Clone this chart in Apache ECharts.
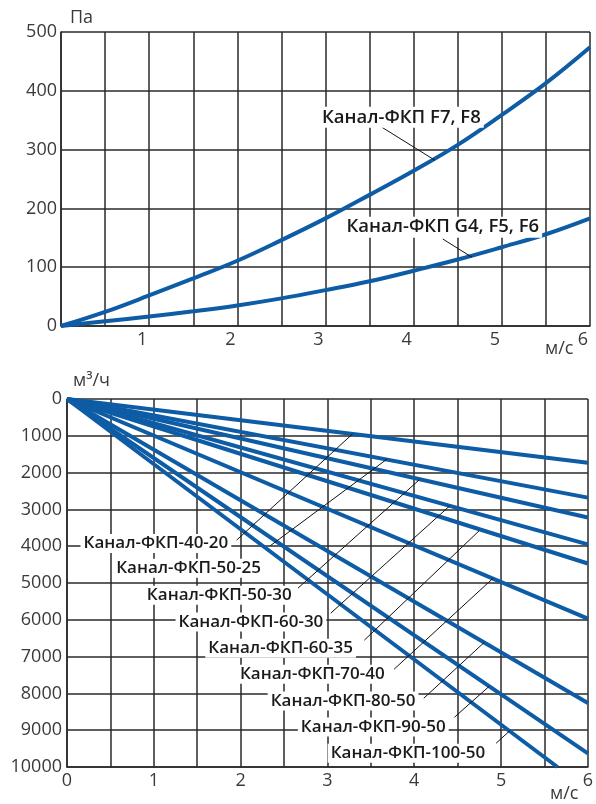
<!DOCTYPE html>
<html><head><meta charset="utf-8">
<script src="https://cdn.jsdelivr.net/npm/echarts@6/dist/echarts.min.js"></script>
<style>html,body{margin:0;padding:0;background:#fff}#c{width:596px;height:804px}</style>
</head><body><div id="c"></div>
<script>
// ---- data ----
const velocity = [0, 0.5, 1, 1.5, 2, 2.5, 3, 3.5, 4, 4.5, 5, 5.5, 6];
const pressF7F8 = [0, 24, 52, 81, 111, 146, 183, 223, 264, 308, 359, 413, 474];
const pressG4F6 = [0, 8, 16, 25, 35, 47, 61, 76, 94, 113, 134, 156, 183];
const topSeriesNames = ['Канал-ФКП F7, F8', 'Канал-ФКП G4, F5, F6'];

const ductNames = ['Канал-ФКП-40-20', 'Канал-ФКП-50-25', 'Канал-ФКП-50-30', 'Канал-ФКП-60-30',
  'Канал-ФКП-60-35', 'Канал-ФКП-70-40', 'Канал-ФКП-80-50', 'Канал-ФКП-90-50', 'Канал-ФКП-100-50'];
const ductEndVelocity = [6, 6, 6, 6, 6, 6, 6, 6, 5.65];
const ductEndFlow = [1730, 2680, 3220, 3950, 4470, 5970, 8260, 9630, 10000];

const topXTickLabels = ['1', '2', '3', '4', '5', '6'];
const bottomXTickLabels = ['0', '1', '2', '3', '4', '5', '6'];

// ---- annotation placement (data coords) ----
const topAnn = [
  { at: [3.86, 355], leader: [[3.64, 338], [4.24, 282]] },
  { at: [4.33, 168], leader: [[4.33, 148], [4.66, 117]] }
];
const botAnn = [
  { at: [1.024, 3924], leader: [[1.954, 3835], [3.288, 952]] },
  { at: [1.40, 4596], leader: [[2.342, 3987], [3.688, 1630]] },
  { at: [1.754, 5330], leader: [[2.661, 5140], [4.061, 2190]] },
  { at: [2.119, 6057], leader: [[3.038, 5820], [4.406, 2910]] },
  { at: [2.461, 6772], leader: [[3.425, 6554], [4.748, 3580]] },
  { at: [2.826, 7479], leader: [[3.768, 7343], [4.909, 4870]] },
  { at: [3.18, 8205], leader: [[4.11, 8132], [4.806, 6615]] },
  { at: [3.528, 8912], leader: [[4.463, 8648], [4.862, 7810]] },
  { at: [3.927, 9627], leader: [[4.943, 9355], [5.103, 9010]] }
];

const blue = '#0d5ca5';
const gridColor = '#2a2a2a';
const font = 'Open Sans';
const axisLabelStyle = { fontFamily: font, fontSize: 18, color: '#3a3a3a' };

function annSeries(xi, anns, names, fs) {
  return {
    type: 'line', xAxisIndex: xi, yAxisIndex: xi, data: [], z: 10, silent: true,
    markLine: { symbol: 'none', silent: true, animation: false,
      lineStyle: { color: '#111', width: 1, type: 'solid' }, label: { show: false },
      data: anns.map(a => [{ coord: a.leader[0] }, { coord: a.leader[1] }]) },
    markPoint: { silent: true, animation: false, symbol: 'rect', symbolSize: 1,
      itemStyle: { color: 'transparent' },
      label: { show: true, position: 'inside', fontFamily: font, fontWeight: 600, fontSize: fs,
        color: '#1a1a1a', backgroundColor: '#fff', padding: [1, 3], formatter: p => p.name },
      data: anns.map((a, i) => ({ name: names[i], coord: a.at })) }
  };
}

const series = [];
series.push({ type: 'line', xAxisIndex: 0, yAxisIndex: 0, name: topSeriesNames[0], smooth: 0.4, showSymbol: false,
  lineStyle: { width: 4, color: blue }, data: velocity.map((v, i) => [v, pressF7F8[i]]) });
series.push({ type: 'line', xAxisIndex: 0, yAxisIndex: 0, name: topSeriesNames[1], smooth: 0.4, showSymbol: false,
  lineStyle: { width: 4, color: blue }, data: velocity.map((v, i) => [v, pressG4F6[i]]) });
ductNames.forEach((n, i) => {
  series.push({ type: 'line', xAxisIndex: 1, yAxisIndex: 1, name: n, showSymbol: false,
    lineStyle: { width: 4, color: blue }, data: [[0, 0], [ductEndVelocity[i], ductEndFlow[i]]] });
});
series.push(annSeries(0, topAnn, topSeriesNames, 18.5));
series.push(annSeries(1, botAnn, ductNames, 17));

const lineSt = { color: gridColor, width: 1.5 };
const plain = v => String(v);
const option = {
  animation: false,
  grid: [
    { left: 61, top: 32, width: 529, height: 294 },
    { left: 67, top: 399, width: 526, height: 368 }
  ],
  xAxis: [
    { gridIndex: 0, type: 'value', min: 0, max: 6, interval: 0.5,
      axisLine: { show: true, onZero: false, lineStyle: lineSt }, axisTick: { show: false },
      splitLine: { show: true, lineStyle: lineSt },
      axisLabel: Object.assign({}, axisLabelStyle, { margin: 5, padding: [0, 14, 0, 0],
        formatter: v => { const k = topXTickLabels.indexOf(String(v)); return k >= 0 ? topXTickLabels[k] : ''; } }) },
    { gridIndex: 1, type: 'value', min: 0, max: 6, interval: 0.5,
      axisLine: { show: true, onZero: false, lineStyle: lineSt }, axisTick: { show: false },
      splitLine: { show: true, lineStyle: lineSt },
      axisLabel: Object.assign({}, axisLabelStyle, { margin: 5,
        formatter: v => { const k = bottomXTickLabels.indexOf(String(v)); return k >= 0 ? bottomXTickLabels[k] : ''; } }) }
  ],
  yAxis: [
    { gridIndex: 0, type: 'value', min: 0, max: 500, interval: 100,
      axisLine: { show: true, onZero: false, lineStyle: lineSt }, axisTick: { show: false },
      splitLine: { show: true, lineStyle: lineSt },
      axisLabel: Object.assign({}, axisLabelStyle, { margin: 4, formatter: plain }) },
    { gridIndex: 1, type: 'value', min: 0, max: 10000, interval: 1000, inverse: true,
      axisLine: { show: true, onZero: false, lineStyle: lineSt }, axisTick: { show: false },
      splitLine: { show: true, lineStyle: lineSt },
      axisLabel: Object.assign({}, axisLabelStyle, { margin: 5, formatter: plain }) }
  ],
  graphic: [
    { type: 'text', left: 70, top: 9, style: { text: 'Па', font: '18px "Open Sans"', fill: '#3a3a3a' } },
    { type: 'text', left: 545, top: 340, style: { text: 'м/с', font: '18px "Open Sans"', fill: '#3a3a3a' } },
    { type: 'text', left: 73, top: 372, style: { text: 'м³/ч', font: '18px "Open Sans"', fill: '#3a3a3a' } },
    { type: 'text', left: 550, top: 785, style: { text: 'м/с', font: '18px "Open Sans"', fill: '#3a3a3a' } }
  ],
  series: series
};
const chart = echarts.init(document.getElementById('c'), null, { renderer: 'canvas' });
chart.setOption(option);
</script></body></html>
